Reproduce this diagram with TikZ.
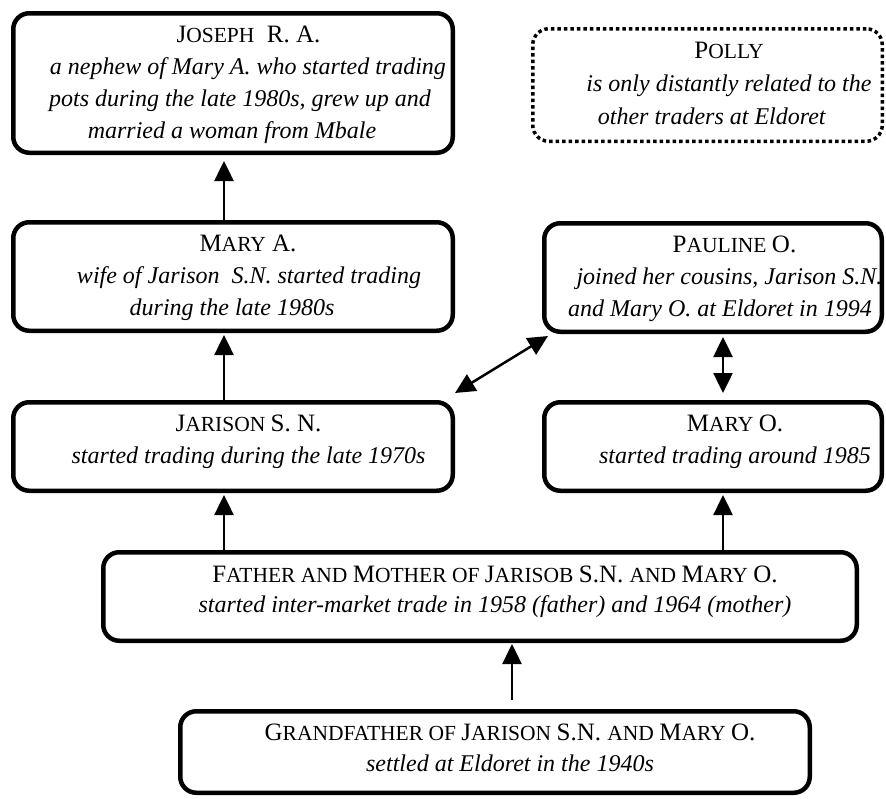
\documentclass[tikz,border=0pt]{standalone}
\usepackage{fontspec}
\setmainfont{Liberation Serif}
\usetikzlibrary{arrows.meta}
% hand-made small capitals: initial at full size, rest as smaller capitals
\newcommand{\lc}[1]{{\fontsize{21.5pt}{26pt}\selectfont #1}}
\newcommand{\ttl}{\fontsize{25pt}{32pt}\selectfont}
\tikzset{
  box/.style={draw, line width=4.5pt, rounded corners=16pt, inner sep=0pt},
  dotbox/.style={draw, line width=3.5pt, dash pattern=on 3.5pt off 3pt, rounded corners=16pt, inner sep=0pt},
  txt/.style={anchor=north, inner sep=0pt, align=center, font=\fontsize{24pt}{32pt}\selectfont},
  arr/.style={line width=2.5pt, -{Triangle[length=20pt,width=19pt]}},
  darr/.style={line width=2.5pt, {Triangle[length=20pt,width=19pt]}-{Triangle[length=20pt,width=19pt]}}
}
\begin{document}
\begin{tikzpicture}[x=1pt,y=-1pt]
\useasboundingbox (0,0) rectangle (886,798);

% boxes
\node[box, minimum width=439.5pt, minimum height=139.5pt] (joseph) at (233,83) {};
\node[dotbox, minimum width=349.5pt, minimum height=112.5pt] (polly) at (707.5,85) {};
\node[box, minimum width=439.5pt, minimum height=108.5pt] (marya) at (233,276.5) {};
\node[box, minimum width=337.5pt, minimum height=108.5pt] (pauline) at (713,277.5) {};
\node[box, minimum width=439.5pt, minimum height=88.5pt] (jarison) at (233,446.5) {};
\node[box, minimum width=337.5pt, minimum height=88.5pt] (maryo) at (713,446.5) {};
\node[box, minimum width=753.5pt, minimum height=88.5pt] (father) at (480,596.5) {};
\node[box, minimum width=629.5pt, minimum height=81.5pt] (grand) at (495,752) {};

% texts
\node[txt] (joseph-t) at (240,26) {%
  \hspace*{17pt}{\ttl J\lc{OSEPH}\ \ R. A.}\\
  \hspace*{16pt}\makebox[396pt][s]{\itshape a nephew of Mary A. who started trading}\\
  \textit{pots during the late 1980s, grew up and}\hspace*{16pt}\\
  \textit{married a woman from Mbale}\hspace*{16pt}};
\node[txt] (polly-t) at (720,41.5) {%
  \hspace*{18pt}{\ttl P\lc{OLLY}}\\[1pt]
  \hspace*{18pt}\textit{is only distantly related to the}\\[1pt]
  \textit{other traders at Eldoret}\hspace*{16pt}};
\node[txt] (marya-t) at (246,235) {%
  \hspace*{4pt}{\ttl M\lc{ARY} A.}\\
  \hspace*{6pt}\textit{wife of Jarison\ \ S.N. started trading}\\[-0.5pt]
  \textit{during the late 1980s}\hspace*{28pt}};
\node[txt] (pauline-t) at (728,236) {%
  \hspace*{13pt}{\ttl P\lc{AULINE }O.}\\
  \hspace*{3pt}\textit{joined her cousins, Jarison S.N.}\\[-0.5pt]
  \textit{and Mary O. at Eldoret in 1994}\hspace*{16pt}};
\node[txt] (jarison-t) at (248.5,414.6) {%
  {\ttl J\lc{ARISON }S. N.}\\[0.5pt]
  \textit{started trading during the late 1970s}};
\node[txt] (maryo-t) at (735,414.6) {%
  {\ttl M\lc{ARY }O.}\\[0.5pt]
  \textit{started trading around 1985}};
\node[txt] (father-t) at (495,565.7) {%
  {\ttl F\lc{ATHER AND }M\lc{OTHER OF }J\lc{ARISOB }S.N. \lc{AND }M\lc{ARY }O.}\\[-1.5pt]
  \textit{started inter-market trade in 1958 (father) and 1964 (mother)}};
\node[txt] (grand-t) at (510,723.5) {%
  {\ttl G\lc{RANDFATHER OF }J\lc{ARISON }S.N. \lc{AND }M\lc{ARY }O.}\\[-0.5pt]
  \textit{settled at Eldoret in the 1940s}};

% connectors
\draw[arr] ([xshift=-9pt]marya.north) -- ([xshift=-9pt,yshift=-6pt]joseph.south);
\draw[arr] ([xshift=-9pt]jarison.north) -- ([xshift=-9pt,yshift=-2pt]marya.south);
\draw[arr] ([xshift=-9pt]jarison.south |- father.north) -- ([xshift=-9pt,yshift=-2pt]jarison.south);
\draw[arr] ([xshift=10pt]maryo.south |- father.north) -- ([xshift=10pt,yshift=-2pt]maryo.south);
\draw[arr] ([xshift=17pt,yshift=9pt]grand.north) -- ([xshift=17pt,yshift=-1pt]grand.north |- father.south);
\draw[darr] ([yshift=7pt]jarison.north east) -- ([xshift=6pt,yshift=-2pt]pauline.south west);
\draw[darr] ([xshift=10pt,yshift=-3pt]pauline.south) -- ([xshift=10pt,yshift=7pt]maryo.north);
\end{tikzpicture}
\end{document}
